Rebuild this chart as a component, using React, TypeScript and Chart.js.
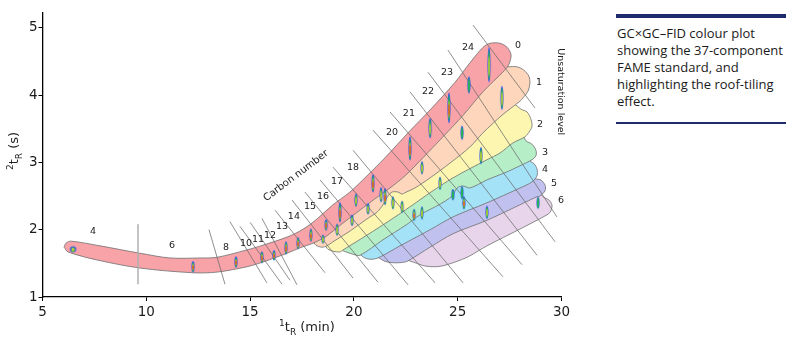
import React, { useEffect, useRef } from "react";
import { Chart, registerables } from "chart.js";

Chart.register(...registerables);

// ---------- axes ----------
const xTicks = [5, 10, 15, 20, 25, 30];
const yTicks = [1, 2, 3, 4, 5];
const xMin = 5, xMax = 30, yMin = 1, yMax = 5.22;

// ---------- peaks (37-component FAME standard) ----------
const peakT1 = [6.47, 12.25, 14.32, 15.57, 16.15, 16.73, 17.31, 17.93, 18.51, 18.66, 19.19, 19.33, 19.91, 20.10, 20.68, 20.92, 21.31, 21.50, 21.88, 22.32, 22.90, 23.28, 22.70, 23.28, 23.67, 24.15, 24.58, 24.77, 25.21, 25.21, 25.30, 25.54, 26.12, 26.41, 26.51, 27.13, 28.87];
const peakT2 = [1.71, 1.45, 1.52, 1.59, 1.62, 1.73, 1.80, 1.92, 1.86, 2.07, 2.00, 2.26, 2.14, 2.44, 2.31, 2.69, 2.52, 2.49, 2.40, 2.34, 2.22, 2.25, 3.21, 2.92, 3.51, 2.69, 3.81, 2.52, 3.44, 2.55, 2.40, 4.15, 3.10, 2.26, 4.45, 3.96, 2.40];
const peakWidth1 = [0.30, 0.15, 0.15, 0.15, 0.15, 0.15, 0.15, 0.15, 0.15, 0.15, 0.15, 0.15, 0.15, 0.15, 0.15, 0.15, 0.15, 0.15, 0.15, 0.15, 0.15, 0.15, 0.15, 0.15, 0.15, 0.15, 0.15, 0.15, 0.15, 0.15, 0.15, 0.15, 0.15, 0.15, 0.15, 0.15, 0.15];
const peakWidth2 = [0.09, 0.16, 0.16, 0.18, 0.15, 0.19, 0.18, 0.19, 0.13, 0.16, 0.18, 0.30, 0.16, 0.19, 0.16, 0.27, 0.22, 0.25, 0.19, 0.18, 0.18, 0.19, 0.36, 0.19, 0.30, 0.19, 0.45, 0.16, 0.21, 0.19, 0.19, 0.25, 0.25, 0.19, 0.52, 0.36, 0.18];
const peakResponse = [1, 2, 2, 2, 2, 2, 2, 2, 1, 2, 1, 2, 1, 1, 1, 2, 1, 2, 1, 1, 2, 1, 2, 1, 1, 1, 2, 0, 0, 0, 2, 0, 1, 1, 1, 1, 0];

// ---------- unsaturation bands (outline, [1tR min, 2tR s]) ----------
const band0 = [[6.04,1.74],[6.13,1.80],[6.37,1.83],[7.77,1.76],[9.70,1.65],[11.14,1.58],[12.59,1.58],[13.41,1.59],[14.85,1.70],[15.62,1.77],[16.78,1.89],[17.40,1.98],[18.03,2.11],[18.99,2.37],[19.81,2.56],[20.63,2.80],[21.50,3.07],[22.70,3.47],[23.67,3.78],[24.87,4.19],[25.59,4.48],[26.22,4.71],[26.56,4.77],[27.04,4.77],[27.38,4.71],[27.57,4.60],[27.47,4.46],[27.23,4.36],[26.22,4.05],[25.26,3.70],[24.29,3.38],[23.33,3.07],[22.46,2.80],[21.74,2.62],[21.02,2.46],[20.29,2.29],[19.48,2.10],[18.61,1.89],[18.03,1.80],[17.40,1.73],[16.78,1.65],[15.62,1.52],[14.85,1.45],[13.41,1.37],[12.25,1.36],[9.70,1.43],[7.63,1.55],[6.23,1.67]];
const band1 = [[17.98,1.85],[18.46,1.97],[19.33,2.17],[20.15,2.37],[20.87,2.55],[21.59,2.71],[22.32,2.89],[23.18,3.15],[24.15,3.48],[25.11,3.81],[26.07,4.14],[26.89,4.40],[27.42,4.42],[27.86,4.42],[28.19,4.37],[28.43,4.28],[28.48,4.18],[28.39,4.06],[28.15,3.96],[28.00,3.91],[27.13,3.70],[26.22,3.44],[25.59,3.23],[24.63,2.99],[23.67,2.77],[22.94,2.62],[22.46,2.55],[22.32,2.53],[22.12,2.56],[21.84,2.56],[21.64,2.50],[21.40,2.37],[21.11,2.26],[20.63,2.16],[19.81,1.98],[18.99,1.82],[18.70,1.76],[18.46,1.74],[18.17,1.77]];
const band2 = [[18.56,1.79],[19.09,1.88],[19.81,2.03],[20.53,2.20],[21.16,2.37],[21.55,2.52],[21.98,2.65],[22.70,2.74],[23.67,2.92],[24.63,3.15],[25.59,3.41],[26.56,3.67],[27.28,3.87],[27.66,3.88],[28.05,3.79],[28.34,3.75],[28.53,3.64],[28.58,3.54],[28.48,3.47],[28.24,3.38],[27.66,3.29],[27.04,3.14],[26.41,3.04],[24.77,2.77],[23.67,2.55],[22.70,2.34],[21.74,2.14],[20.63,1.92],[19.48,1.70],[19.33,1.67],[18.99,1.68],[18.75,1.71]];
const band3 = [[19.28,1.71],[19.81,1.82],[20.63,2.00],[21.74,2.25],[22.70,2.44],[23.67,2.65],[24.77,2.87],[26.41,3.14],[27.52,3.33],[28.10,3.41],[28.29,3.32],[28.58,3.27],[28.77,3.18],[28.77,3.10],[28.58,3.04],[28.00,2.95],[27.38,2.86],[26.41,2.74],[25.59,2.62],[25.26,2.65],[24.97,2.62],[24.73,2.50],[24.15,2.38],[23.18,2.22],[22.51,2.07],[21.40,1.85],[20.29,1.62],[19.91,1.64],[19.62,1.67]];
const band4 = [[20.15,1.67],[20.78,1.80],[21.74,1.98],[22.70,2.17],[24.15,2.46],[24.87,2.69],[25.59,2.74],[26.56,2.86],[27.52,2.99],[28.29,3.07],[28.53,3.01],[28.68,2.98],[28.82,2.90],[28.82,2.80],[28.58,2.71],[28.00,2.62],[26.41,2.40],[24.77,2.19],[23.67,2.00],[22.22,1.76],[21.16,1.58],[20.82,1.56],[20.53,1.58]];
const band5 = [[21.06,1.61],[21.74,1.76],[22.70,1.91],[23.67,2.07],[24.77,2.26],[26.41,2.47],[28.00,2.69],[28.58,2.77],[28.82,2.75],[29.01,2.74],[29.21,2.66],[29.21,2.58],[28.96,2.50],[28.82,2.49],[28.00,2.37],[26.41,2.14],[24.77,1.94],[23.67,1.74],[22.56,1.53],[22.22,1.51],[21.84,1.51],[21.50,1.53]];
const band6 = [[22.46,1.56],[23.18,1.74],[24.77,2.03],[26.41,2.25],[28.00,2.47],[28.82,2.59],[29.11,2.49],[29.40,2.44],[29.54,2.37],[29.49,2.28],[29.35,2.23],[28.00,2.01],[26.41,1.76],[25.45,1.59],[24.49,1.48],[24.00,1.45],[23.43,1.46],[22.94,1.51]];
const bands = [band0, band1, band2, band3, band4, band5, band6];
const bandColors = ["#f8a3a8", "#fdd6bc", "#fdf6b1", "#b6efc7", "#a4e2f8", "#c1c1ef", "#e8d5ec"];

// ---------- carbon-number separators ----------
const sepStart = [[9.60,2.08],[13.02,2.00],[14.03,2.12],[14.51,2.05],[15.00,2.11],[15.57,2.17],[16.20,2.29],[17.02,2.44],[17.64,2.56],[18.37,2.74],[18.99,2.93],[19.96,3.18],[20.92,3.48],[21.74,3.75],[22.70,4.05],[23.57,4.34],[24.53,4.67],[25.74,5.04]];
const sepEnd = [[9.60,1.19],[13.79,1.19],[15.81,1.21],[16.54,1.19],[16.92,1.25],[17.26,1.18],[18.61,1.36],[19.96,1.28],[21.16,1.22],[22.61,1.18],[23.91,1.21],[25.26,1.21],[27.18,1.30],[28.10,1.48],[28.82,1.62],[29.69,1.82],[29.78,2.19],[28.72,3.81]];

// ---------- labels ----------
const carbonLabels = ["4", "6", "8", "10", "11", "12", "13", "14", "15", "16", "17", "18", "20", "21", "22", "23", "24"];
const carbonLabelT1 = [7.43, 11.24, 13.84, 14.80, 15.38, 15.96, 16.54, 17.11, 17.89, 18.51, 19.19, 19.96, 21.84, 22.65, 23.57, 24.49, 25.50];
const carbonLabelT2 = [1.97, 1.77, 1.74, 1.80, 1.85, 1.92, 2.04, 2.19, 2.35, 2.50, 2.71, 2.93, 3.45, 3.73, 4.05, 4.34, 4.70];
const unsatLabels = ["0", "1", "2", "3", "4", "5", "6"];
const unsatT1 = [27.91, 28.92, 28.96, 29.21, 29.21, 29.64, 29.98];
const unsatT2 = [4.73, 4.19, 3.56, 3.14, 2.89, 2.68, 2.43];
const carbonTitle = "Carbon number";
const carbonTitlePos = [17.21, 2.80];
const unsatTitle = "Unsaturation level";
const unsatTitlePos = [29.93, 4.05];
const xTitle = { sup: "1", main: "t", sub: "R", rest: " (min)" };
const yTitle = { sup: "2", main: "t", sub: "R", rest: " (s)" };
const captionLines = ["GC×GC–FID colour plot", "showing the 37-component", "FAME standard, and", "highlighting the roof-tiling", "effect."];

// ---------- helpers ----------
const peakCache = new Map<string, HTMLCanvasElement>();
function peakImage(w: number, h: number, level: number): HTMLCanvasElement {
  const key = `${w.toFixed(1)}_${h.toFixed(1)}_${level}`;
  const hit = peakCache.get(key);
  if (hit) return hit;
  const cw = Math.ceil(w) + 2;
  const ch = Math.ceil(h) + 2;
  const c = document.createElement("canvas");
  c.width = cw;
  c.height = ch;
  const g = c.getContext("2d")!;
  const cx = cw / 2, cy = ch / 2;
  const rx = w / 2, ry = h / 2;
  const ell = (fx: number, fy: number, dy: number, col: string) => {
    g.beginPath();
    g.ellipse(cx, cy + dy, Math.max(0.45, rx * fx), Math.max(0.6, ry * fy), 0, 0, Math.PI * 2);
    g.fillStyle = col;
    g.fill();
  };
  ell(1, 1, 0, "#2f52f2");
  ell(0.62, 0.86, 0.3, "#22b84e");
  if (level >= 1) ell(0.45, 0.58, ry * 0.08, "#d8cf2c");
  if (level >= 2) ell(0.42, 0.42, ry * 0.14, "#ee3a22");
  peakCache.set(key, c);
  return c;
}

function drawComposite(ctx: CanvasRenderingContext2D, t: { sup: string; main: string; sub: string; rest: string }) {
  const big = '13px "DejaVu Sans"';
  const small = '9px "DejaVu Sans"';
  const parts: [string, string, number][] = [
    [t.sup, small, -5],
    [t.main, big, 0],
    [t.sub, small, 4],
    [t.rest, big, 0],
  ];
  let total = 0;
  const widths = parts.map(([s, f]) => {
    ctx.font = f;
    const w = ctx.measureText(s).width;
    total += w;
    return w;
  });
  let x = -total / 2;
  ctx.textAlign = "left";
  ctx.textBaseline = "alphabetic";
  parts.forEach(([s, f, dy], i) => {
    ctx.font = f;
    ctx.fillText(s, x, dy);
    x += widths[i];
  });
}

const annotations = {
  id: "gcAnnotations",
  afterDatasetsDraw(chart: any) {
    const { ctx, chartArea } = chart;
    const xs = chart.scales.x, ys = chart.scales.y;
    ctx.save();
    ctx.fillStyle = "#222";
    ctx.textAlign = "center";
    ctx.textBaseline = "middle";
    ctx.font = '9.5px "DejaVu Sans"';
    carbonLabels.forEach((t, i) => ctx.fillText(t, xs.getPixelForValue(carbonLabelT1[i]), ys.getPixelForValue(carbonLabelT2[i])));
    unsatLabels.forEach((t, i) => ctx.fillText(t, xs.getPixelForValue(unsatT1[i]), ys.getPixelForValue(unsatT2[i])));
    ctx.save();
    ctx.font = '10px "DejaVu Sans"';
    ctx.translate(xs.getPixelForValue(carbonTitlePos[0]), ys.getPixelForValue(carbonTitlePos[1]));
    ctx.rotate((-37 * Math.PI) / 180);
    ctx.fillText(carbonTitle, 0, 0);
    ctx.restore();
    ctx.save();
    ctx.font = '9.5px "DejaVu Sans"';
    ctx.translate(xs.getPixelForValue(unsatTitlePos[0]), ys.getPixelForValue(unsatTitlePos[1]));
    ctx.rotate(Math.PI / 2);
    ctx.fillText(unsatTitle, 0, 0);
    ctx.restore();
    // axis titles
    ctx.fillStyle = "#222";
    ctx.save();
    ctx.translate((chartArea.left + chartArea.right) / 2 + 5, chartArea.bottom + 34);
    drawComposite(ctx, xTitle);
    ctx.restore();
    ctx.save();
    ctx.translate(18, (chartArea.top + chartArea.bottom) / 2 - 4);
    ctx.rotate(-Math.PI / 2);
    drawComposite(ctx, yTitle);
    ctx.restore();
    ctx.restore();
  },
};

function buildConfig(): any {
  const bandSets = bands.map((b, i) => ({
    label: `unsaturation ${i}`,
    data: [...b, b[0]].map(([x, y]) => ({ x, y })),
    showLine: true,
    fill: "shape",
    backgroundColor: bandColors[i],
    borderColor: "#6e6e6e",
    borderWidth: 0.8,
    tension: 0.3,
    pointRadius: 0,
    order: 3,
  }));
  const sepSets = sepStart.map((s, i) => ({
    label: `sep ${i}`,
    data: [{ x: s[0], y: s[1] }, { x: sepEnd[i][0], y: sepEnd[i][1] }],
    showLine: true,
    fill: false,
    borderColor: i === 0 ? "#b0b0b0" : "#6a6a6a",
    borderWidth: 0.75,
    pointRadius: 0,
    order: 2,
  }));
  const peakSet = {
    label: "peaks",
    data: peakT1.map((x, i) => ({ x, y: peakT2[i] })),
    showLine: false,
    pointRadius: 2,
    order: 1,
    pointStyle: (ctx: any) => {
      const i = ctx.dataIndex;
      const xs = ctx.chart.scales.x, ys = ctx.chart.scales.y;
      if (!xs || !ys || i == null) return "circle";
      const w = Math.abs(xs.getPixelForValue(peakT1[i] + peakWidth1[i] / 2) - xs.getPixelForValue(peakT1[i] - peakWidth1[i] / 2));
      const h = Math.abs(ys.getPixelForValue(peakT2[i] + peakWidth2[i] / 2) - ys.getPixelForValue(peakT2[i] - peakWidth2[i] / 2));
      return peakImage(w, h, peakResponse[i]);
    },
  };
  const tickFont = { family: "DejaVu Sans", size: 13.5 };
  return {
    type: "scatter",
    data: { datasets: [...bandSets, ...sepSets, peakSet] },
    options: {
      responsive: false,
      animation: false,
      devicePixelRatio: 1,
      events: [],
      layout: { padding: { top: 13, right: 38.5, left: 0, bottom: 0 } },
      plugins: { legend: { display: false }, tooltip: { enabled: false } },
      scales: {
        x: {
          type: "linear",
          min: xMin,
          max: xMax,
          afterBuildTicks: (s: any) => { s.ticks = xTicks.map((v) => ({ value: v })); },
          afterFit: (s: any) => { s.height = 50; },
          grid: { display: true, drawOnChartArea: false, drawTicks: true, tickLength: 4, color: "#000", lineWidth: 1 },
          border: { display: true, color: "#000", width: 1.3 },
          ticks: { font: tickFont, color: "#1a1a1a", padding: 3, maxRotation: 0, autoSkip: false },
        },
        y: {
          type: "linear",
          min: yMin,
          max: yMax,
          afterBuildTicks: (s: any) => { s.ticks = yTicks.map((v) => ({ value: v })); },
          afterFit: (s: any) => { s.width = 42.5; },
          grid: { display: true, drawOnChartArea: false, drawTicks: true, tickLength: 4, color: "#000", lineWidth: 1 },
          border: { display: true, color: "#000", width: 1.3 },
          ticks: { font: tickFont, color: "#1a1a1a", padding: 1, autoSkip: false },
        },
      },
    },
    plugins: [annotations],
  };
}

export default function App() {
  const ref = useRef<HTMLCanvasElement>(null);
  useEffect(() => {
    document.body.style.margin = "0";
    const chart = new Chart(ref.current as HTMLCanvasElement, buildConfig());
    return () => chart.destroy();
  }, []);
  const navy = "#1f2b6d";
  return (
    <div style={{ position: "absolute", left: 0, top: 0, width: 800, height: 347, background: "#fff", overflow: "hidden" }}>
      <canvas ref={ref} width={600} height={347} style={{ position: "absolute", left: 0, top: 0, width: 600, height: 347 }} />
      <div style={{ position: "absolute", left: 616, top: 14, width: 170 }}>
        <div style={{ height: 4, background: navy }} />
        <div style={{ fontFamily: "'Open Sans', 'Noto Sans', sans-serif", fontSize: 13, lineHeight: "17px", color: "#1a1a1a", padding: "7px 0 12px 1px", whiteSpace: "nowrap" }}>
          {captionLines.map((l, i) => (
            <div key={i}>{l}</div>
          ))}
        </div>
        <div style={{ height: 2, background: navy }} />
      </div>
    </div>
  );
}
